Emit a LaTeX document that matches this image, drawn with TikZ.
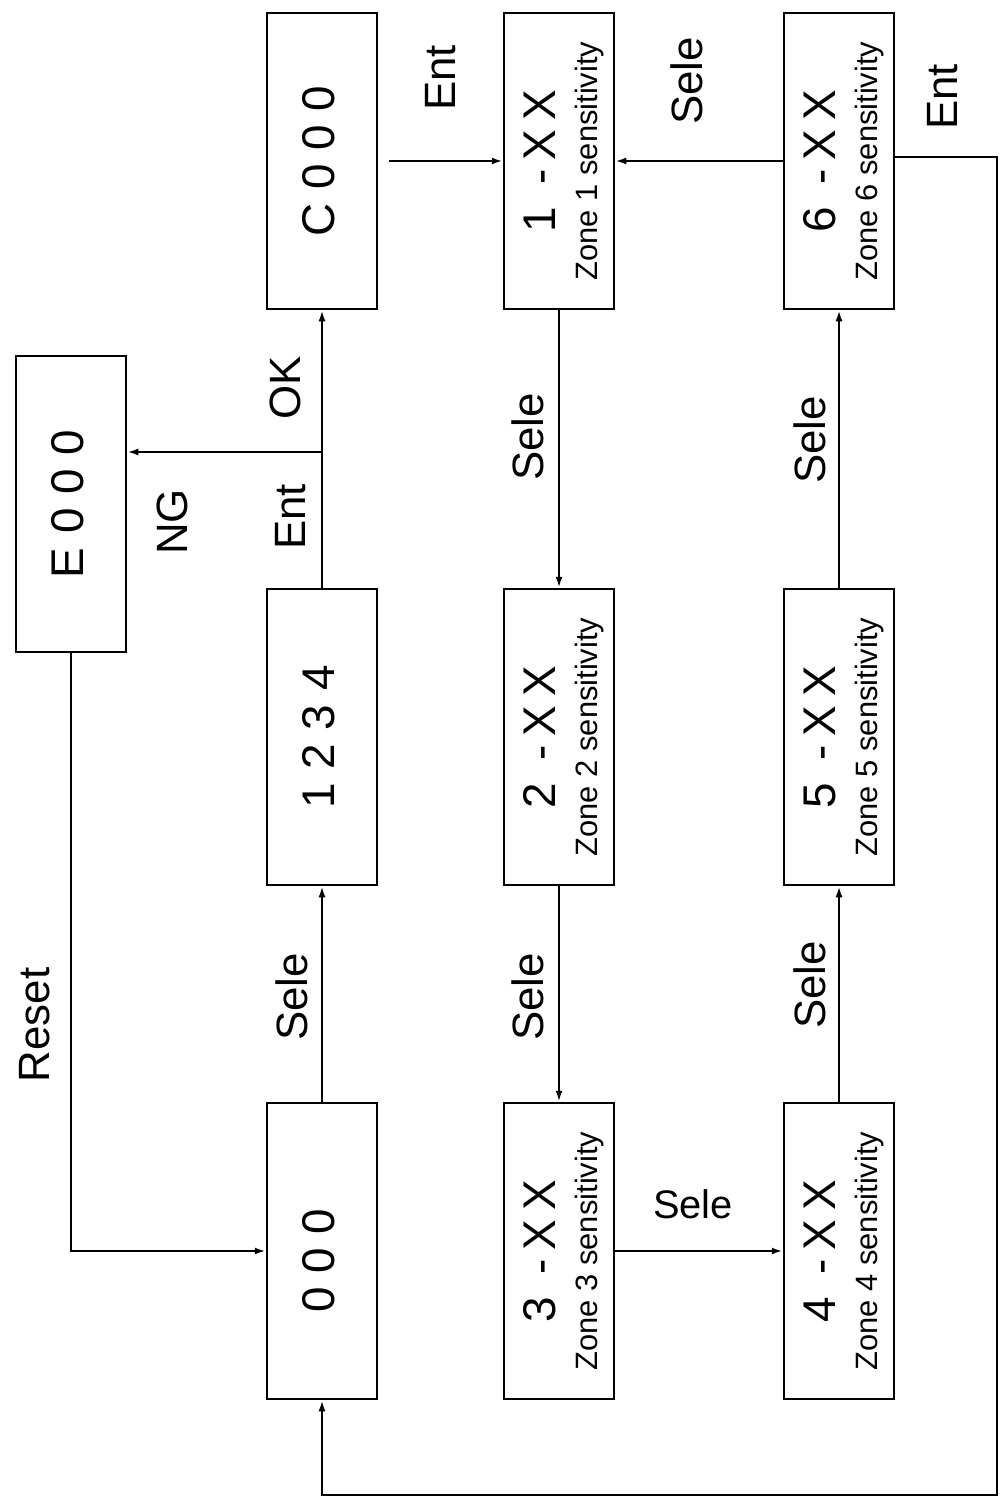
\documentclass[tikz,border=0pt]{standalone}
\usepackage{fontspec}
\setmainfont{Liberation Sans}
\newfontfamily\digfont[LetterSpace=30]{Liberation Sans}
\newfontfamily\zonefont[LetterSpace=20]{Liberation Sans}
\usetikzlibrary{arrows.meta}
\begin{document}
\begin{tikzpicture}[x=1bp,y=-1bp,
  box/.style={draw,line width=2.5bp,minimum width=110bp,minimum height=296bp,inner sep=0pt},
  digits/.style={rotate=90,inner sep=0pt,font=\digfont\fontsize{46}{50}\selectfont},
  zmain/.style={rotate=90,inner sep=0pt,anchor=base,font=\zonefont\fontsize{46}{50}\selectfont},
  zsub/.style={rotate=90,inner sep=0pt,anchor=base,font=\fontsize{31}{34}\selectfont},
  lbl/.style={rotate=90,inner sep=0pt,font=\fontsize{44}{48}\selectfont},
  hlbl/.style={inner sep=0pt,font=\fontsize{40}{44}\selectfont},
  conn/.style={line width=2.2bp},
  arr/.style={conn,-{Latex[length=11bp,width=7bp]}}]
\useasboundingbox (0,0) rectangle (1001,1505);
% boxes
\node[box] (e000) at (71,504) {};
\node[box] (c000) at (322,161) {};
\node[box] (b1234) at (322,737) {};
\node[box] (b000) at (322,1251) {};
\node[box] (z1) at (559,161) {};
\node[box] (z2) at (559,737) {};
\node[box] (z3) at (559,1251) {};
\node[box] (z4) at (839,1251) {};
\node[box] (z5) at (839,737) {};
\node[box] (z6) at (839,161) {};
% box texts
\node[digits] (te000) at ([xshift=-3bp]e000.center) {E000};
\node[digits] (tc000) at ([xshift=-3bp]c000.center) {C000};
\node[digits] (t1234) at ([xshift=-3bp]b1234.center) {1234};
\node[digits] (t000) at ([xshift=-3bp,yshift=-10bp]b000.center) {000};
\foreach \z/\n in {z1/1,z2/2,z3/3,z4/4,z5/5,z6/6}{
  \node[zmain] (\z m) at ([xshift=-4bp]\z.center) {\n\ -XX};
  \node[zsub] (\z s) at ([xshift=38bp]\z.center) {Zone \n\ sensitivity};
}
% junction and loop coordinates
\coordinate (j) at (322,452);
\coordinate (loopR) at (997,157);
\coordinate (loopB) at (322,1495);
% connectors
\draw[arr] (b000.north) -- (b1234.south);
\draw[conn] (b1234.north) -- (j);
\draw[arr] (j) -- (c000.south);
\draw[arr] (j) -- (e000.east |- j);
\draw[arr,shorten <=11bp] (c000.east) -- (z1.west);
\draw[arr] (z6.west) -- (z1.east);
\draw[arr] (z1.south) -- (z2.north);
\draw[arr] (z2.south) -- (z3.north);
\draw[arr] (z3.east) -- (z4.west);
\draw[arr] (z4.north) -- (z5.south);
\draw[arr] (z5.north) -- (z6.south);
\draw[arr] (z6.east |- loopR) -- (loopR) -- (loopR |- loopB) -- (loopB) -- (b000.south);
\draw[arr] (e000.south) -- (e000.south |- b000.west) -- (b000.west);
% labels
\node[lbl] (l1) at (441,78) {Ent};
\node[lbl] (l2) at (687,81) {Sele};
\node[lbl] (l3) at (943,97) {Ent};
\node[lbl] (l4) at (528,437) {Sele};
\node[lbl] (l5) at (172,522) {NG};
\node[lbl] (l6) at (291,517) {Ent};
\node[lbl] (l7) at (285,388) {OK};
\node[lbl] (l8) at (292,997) {Sele};
\node[lbl] (l9) at (528,997) {Sele};
\node[lbl] (l10) at (810,985) {Sele};
\node[lbl] (l11) at (810,440) {Sele};
\node[lbl] (l12) at (35,1025) {Reset};
\node[hlbl] (l13) at (693,1204) {Sele};
\end{tikzpicture}
\end{document}
